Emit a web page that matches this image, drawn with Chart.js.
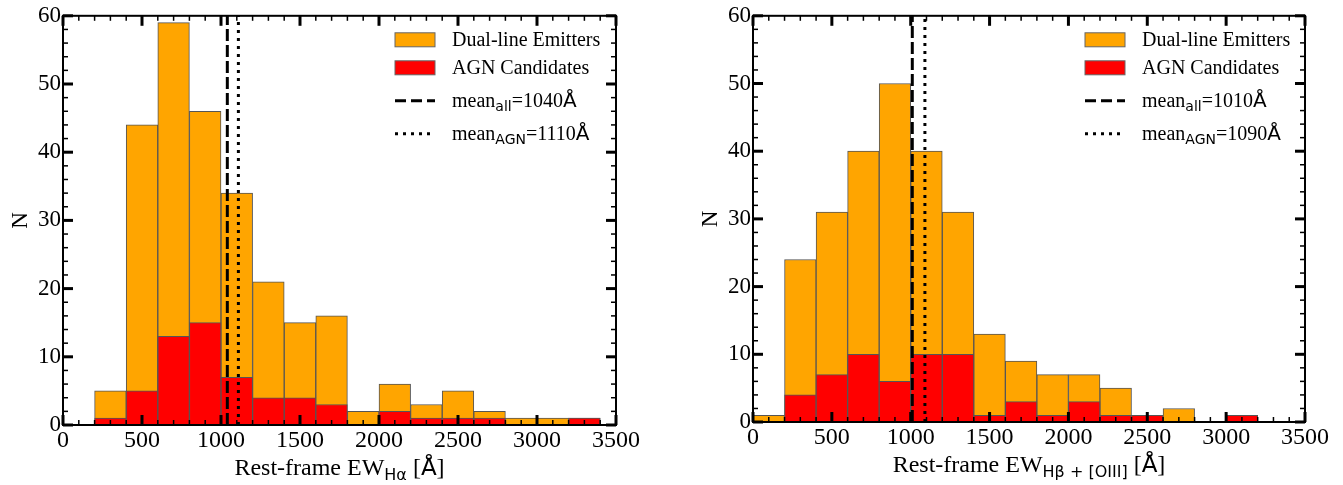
<!DOCTYPE html>
<html>
<head>
<meta charset="utf-8">
<script src="https://cdn.jsdelivr.net/npm/chart.js@4.4.0/dist/chart.umd.min.js"></script>
<style>
body { margin: 0; background: #fff; }
#wrap { position: relative; width: 1343px; height: 485px; }
.box { position: absolute; top: 0; height: 485px; }
</style>
</head>
<body>
<div id="wrap">
  <div class="box" style="left:0;width:671px"><canvas id="chartHa"></canvas></div>
  <div class="box" style="left:671px;width:672px"><canvas id="chartHb"></canvas></div>
</div>
<script>
// histogram bins: left edge of every 200 A bin
const binLeft = [0, 200, 400, 600, 800, 1000, 1200, 1400, 1600, 1800, 2000, 2200, 2400, 2600, 2800, 3000, 3200];
const binWidth = 200;

// H-alpha panel
const haAll = [0, 5, 44, 59, 46, 34, 21, 15, 16, 2, 6, 3, 5, 2, 1, 1, 1];
const haAgn = [0, 1, 5, 13, 15, 7, 4, 4, 3, 0, 2, 1, 1, 1, 0, 0, 1];
const haMeanAll = 1040;
const haMeanAgn = 1110;

// H-beta + [OIII] panel
const hbAll = [1, 24, 31, 40, 50, 40, 31, 13, 9, 7, 7, 5, 1, 2, 0, 1, 0];
const hbAgn = [0, 4, 7, 10, 6, 10, 10, 1, 3, 1, 3, 1, 1, 0, 0, 1, 0];
const hbMeanAll = 1010;
const hbMeanAgn = 1090;

const xTicks = [0, 500, 1000, 1500, 2000, 2500, 3000, 3500];
const yTicks = [0, 10, 20, 30, 40, 50, 60];
const legendNames = ['Dual-line Emitters', 'AGN Candidates'];

const SERIF = '"Liberation Serif", "DejaVu Serif", serif';
const SANS = '"DejaVu Sans", "Liberation Sans", sans-serif';
Chart.defaults.font.family = SERIF;

function toBars(vals) {
  return vals.map((v, i) => ({ x: binLeft[i] + binWidth / 2, y: v === 0 ? null : v }));
}

// draws a run of text pieces, each with own font and vertical shift
function drawRich(ctx, parts, x, y, align) {
  let total = 0;
  parts.forEach(p => { ctx.font = p.font; total += ctx.measureText(p.t).width; });
  let cx = align === 'center' ? x - total / 2 : x;
  ctx.textAlign = 'left';
  ctx.textBaseline = 'alphabetic';
  parts.forEach(p => {
    ctx.font = p.font;
    ctx.fillText(p.t, cx, y + (p.dy || 0));
    cx += ctx.measureText(p.t).width;
  });
}

function seg(ctx, x1, y1, x2, y2) {
  ctx.beginPath();
  ctx.moveTo(x1, y1);
  ctx.lineTo(x2, y2);
  ctx.stroke();
}

const framePlugin = {
  id: 'frame',
  afterDatasetsDraw(chart, args, opts) {
    const ctx = chart.ctx, a = chart.chartArea;
    const xs = chart.scales.x, ys = chart.scales.y;
    ctx.save();
    ctx.strokeStyle = '#000';
    ctx.fillStyle = '#000';
    ctx.lineCap = 'butt';

    // minor + major ticks, inside, on all four sides
    for (let v = 0; v <= 3500; v += 100) {
      const px = xs.getPixelForValue(v);
      const major = v % 500 === 0;
      const len = major ? 10 : 5;
      ctx.lineWidth = major ? 3 : 1.5;
      seg(ctx, px, a.bottom, px, a.bottom - len);
      seg(ctx, px, a.top, px, a.top + len);
    }
    for (let v = 0; v <= 60; v += 2) {
      const py = ys.getPixelForValue(v);
      const major = v % 10 === 0;
      const len = major ? 10 : 5;
      ctx.lineWidth = major ? 3 : 1.5;
      seg(ctx, a.left, py, a.left + len, py);
      seg(ctx, a.right, py, a.right - len, py);
    }
    // frame
    ctx.lineWidth = 2;
    ctx.strokeRect(a.left, a.top, a.right - a.left, a.bottom - a.top);

    // legend
    const lx = a.left + 332, tx = a.left + 389;
    const rows = [a.top + 24, a.top + 52, a.top + 85, a.top + 118];
    const tfont = '20px ' + SERIF, sfont = '14px ' + SANS;
    ['#FFA500', '#FF0000'].forEach((c, i) => {
      ctx.fillStyle = c;
      ctx.fillRect(lx, rows[i] - 7, 40, 14);
      ctx.strokeStyle = '#666';
      ctx.lineWidth = 1;
      ctx.strokeRect(lx, rows[i] - 7, 40, 14);
    });
    ctx.strokeStyle = '#000';
    ctx.lineWidth = 3;
    ctx.setLineDash([11, 5]);
    seg(ctx, lx, rows[2], lx + 40, rows[2]);
    ctx.setLineDash([3, 5]);
    seg(ctx, lx, rows[3], lx + 40, rows[3]);
    ctx.setLineDash([]);
    ctx.fillStyle = '#000';
    drawRich(ctx, [{ t: legendNames[0], font: tfont }], tx, rows[0] + 6);
    drawRich(ctx, [{ t: legendNames[1], font: tfont }], tx, rows[1] + 6);
    drawRich(ctx, [{ t: 'mean', font: tfont }, { t: 'all', font: sfont, dy: 4 },
      { t: '=' + opts.meanAll, font: tfont }, { t: 'Å', font: '20px ' + SANS }], tx, rows[2] + 6);
    drawRich(ctx, [{ t: 'mean', font: tfont }, { t: 'AGN', font: sfont, dy: 4 },
      { t: '=' + opts.meanAgn, font: tfont }, { t: 'Å', font: '20px ' + SANS }], tx, rows[3] + 6);

    // axis titles
    const cx = (a.left + a.right) / 2;
    drawRich(ctx, [{ t: 'Rest-frame EW', font: '24px ' + SERIF },
      { t: opts.sub, font: '16px ' + SANS, dy: 5 },
      { t: ' [', font: '24px ' + SERIF }, { t: 'Å', font: '23px ' + SANS },
      { t: ']', font: '24px ' + SERIF }], cx, a.bottom + 50, 'center');
    ctx.save();
    ctx.translate(a.left - 44, (a.top + a.bottom) / 2);
    ctx.rotate(-Math.PI / 2);
    drawRich(ctx, [{ t: 'N', font: '23px ' + SERIF }], 0, 8, 'center');
    ctx.restore();
    ctx.restore();
  }
};

function makeChart(id, all, agn, meanAll, meanAgn, sub, box) {
  return new Chart(document.getElementById(id), {
    type: 'bar',
    data: {
      datasets: [
        { type: 'line', data: [{ x: meanAll, y: 0 }, { x: meanAll, y: 60 }], borderColor: '#000',
          borderWidth: 3, borderDash: [12, 4], pointRadius: 0, order: 0 },
        { type: 'line', data: [{ x: meanAgn, y: 0 }, { x: meanAgn, y: 60 }], borderColor: '#000',
          borderWidth: 3, borderDash: [3, 5], pointRadius: 0, order: 0 },
        { label: legendNames[1], data: toBars(agn), backgroundColor: '#FF0000', borderColor: '#555',
          borderWidth: 1, grouped: false, barPercentage: 1, categoryPercentage: 1, order: 1 },
        { label: legendNames[0], data: toBars(all), backgroundColor: '#FFA500', borderColor: '#555',
          borderWidth: 1, grouped: false, barPercentage: 1, categoryPercentage: 1, order: 2 }
      ]
    },
    options: {
      responsive: true,
      maintainAspectRatio: false,
      animation: false,
      layout: { padding: { top: box.top, right: box.right, left: 0, bottom: 0 } },
      plugins: {
        legend: { display: false },
        tooltip: { enabled: false },
        frame: { meanAll: meanAll, meanAgn: meanAgn, sub: sub }
      },
      scales: {
        x: {
          type: 'linear', min: 0, max: 3500, offset: false,
          grid: { display: false, drawTicks: false },
          border: { display: false },
          afterBuildTicks: s => { s.ticks = xTicks.map(v => ({ value: v })); },
          afterFit: s => { s.height = box.xh; },
          ticks: { color: '#000', font: { family: SERIF, size: 24 }, padding: 1, maxRotation: 0,
            autoSkip: false, callback: v => String(v) }
        },
        y: {
          min: 0, max: 60,
          grid: { display: false, drawTicks: false },
          border: { display: false },
          afterBuildTicks: s => { s.ticks = yTicks.map(v => ({ value: v })); },
          afterFit: s => { s.width = box.yw; },
          ticks: { color: '#000', font: { family: SERIF, size: 23 }, padding: 2, callback: v => String(v) }
        }
      }
    },
    plugins: [framePlugin]
  });
}

makeChart('chartHa', haAll, haAgn, haMeanAll, haMeanAgn, 'Hα', { top: 14, right: 55, yw: 63, xh: 60 });
makeChart('chartHb', hbAll, hbAgn, hbMeanAll, hbMeanAgn, 'Hβ + [OIII]', { top: 10, right: 38, yw: 82, xh: 63 });
</script>
</body>
</html>
